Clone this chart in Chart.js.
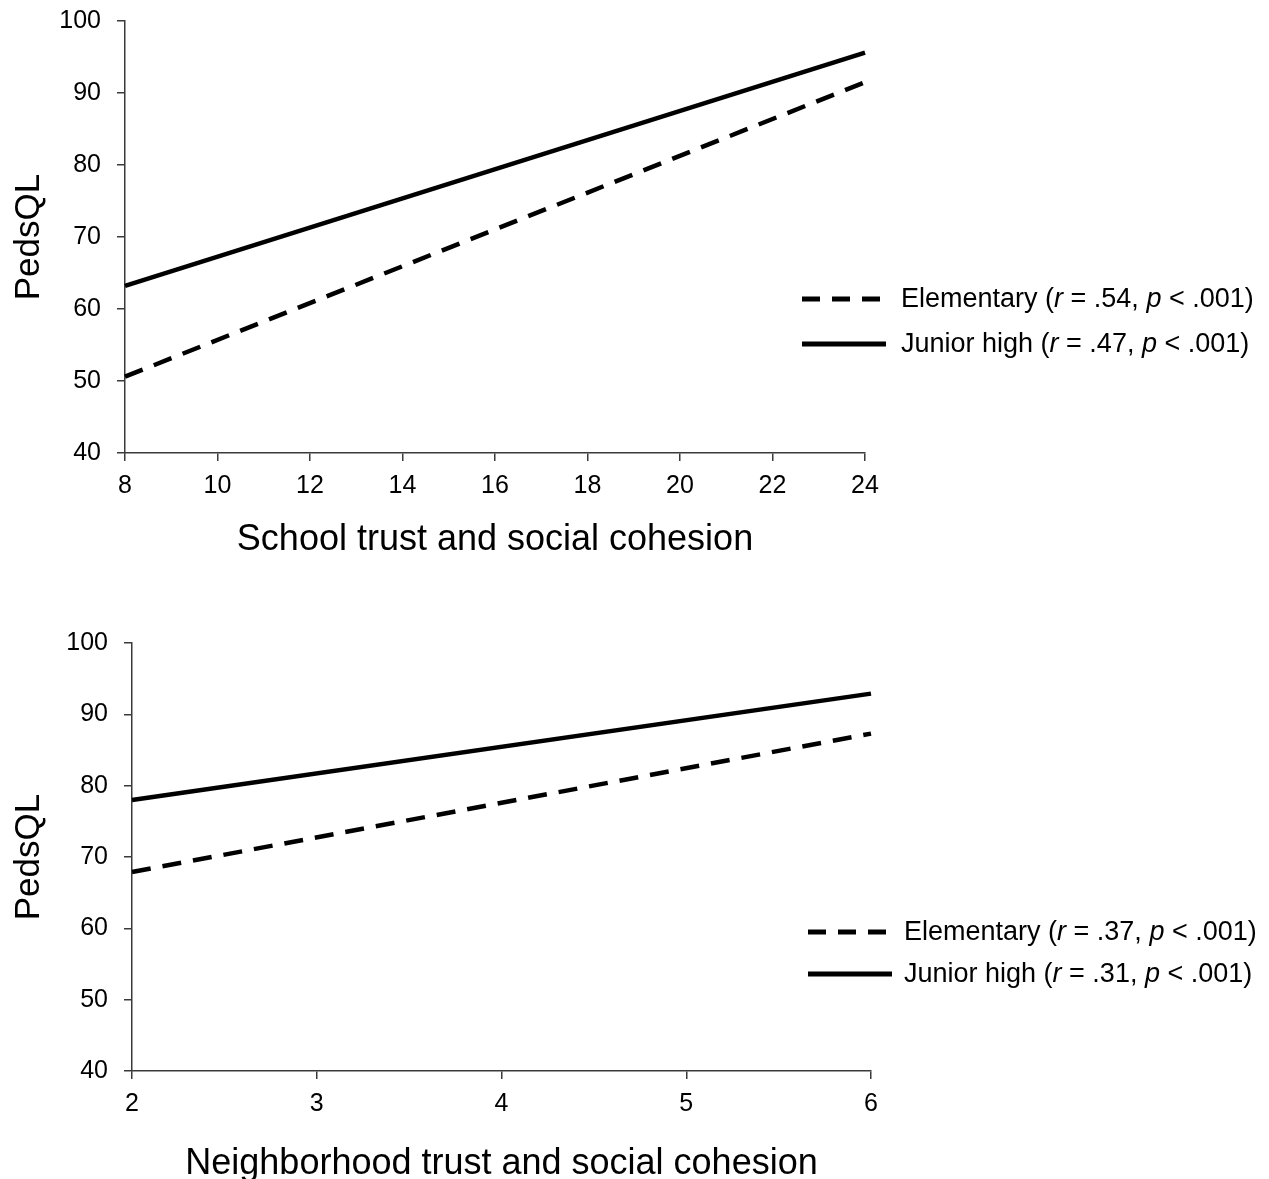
<!DOCTYPE html>
<html>
<head>
<meta charset="utf-8">
<script src="https://cdn.jsdelivr.net/npm/chart.js@4.4.1/dist/chart.umd.min.js"></script>
<style>
  html, body { margin: 0; padding: 0; background: #fff; overflow: hidden; width: 1269px; height: 1179px; }
  body { position: relative; font-family: "Liberation Sans", Arial, sans-serif; }
  canvas { position: absolute; left: 0; }
  #c1 { top: -20px; }
  #c2 { top: 600px; }
  .legend { position: absolute; font-size: 27px; color: #000; line-height: 1; }
  .legend .row { position: absolute; left: 0; white-space: nowrap; height: 30px; }
  .legend svg { position: absolute; left: 0; top: 0; }
  .legend .txt { position: absolute; top: 1px; }
  .legend i { font-style: italic; }
</style>
</head>
<body>
<canvas id="c1" width="1269" height="620" style="width:1269px;height:620px"></canvas>
<canvas id="c2" width="1269" height="620" style="width:1269px;height:620px"></canvas>

<div class="legend" id="leg1" style="left:802px; top:284px;">
  <div class="row" style="top:0;">
    <svg width="80" height="30"><line x1="0" y1="15" x2="78" y2="15" stroke="#000" stroke-width="5" stroke-dasharray="18,12"/></svg>
    <span class="txt" style="left:99px;">Elementary (<i>r</i> = .54, <i>p</i> &lt; .001)</span>
  </div>
  <div class="row" style="top:45px;">
    <svg width="86" height="30"><line x1="0" y1="15" x2="84" y2="15" stroke="#000" stroke-width="5"/></svg>
    <span class="txt" style="left:99px;">Junior high (<i>r</i> = .47, <i>p</i> &lt; .001)</span>
  </div>
</div>

<div class="legend" id="leg2" style="left:808px; top:917px;">
  <div class="row" style="top:0;">
    <svg width="80" height="30"><line x1="0" y1="15" x2="78" y2="15" stroke="#000" stroke-width="5" stroke-dasharray="18,12"/></svg>
    <span class="txt" style="left:96px;">Elementary (<i>r</i> = .37, <i>p</i> &lt; .001)</span>
  </div>
  <div class="row" style="top:42px;">
    <svg width="86" height="30"><line x1="0" y1="15" x2="84" y2="15" stroke="#000" stroke-width="5"/></svg>
    <span class="txt" style="left:96px;">Junior high (<i>r</i> = .31, <i>p</i> &lt; .001)</span>
  </div>
</div>

<script>
// ---- Data ----
const schoolX = [8, 24];
const schoolElementary = [50.6, 91.5];
const schoolJuniorHigh = [63.2, 95.6];

const neighborhoodX = [2, 6];
const neighborhoodElementary = [67.9, 87.3];
const neighborhoodJuniorHigh = [78.0, 92.9];

const seriesLabels = ["Elementary", "Junior high"];
const yTitle = "PedsQL";
const schoolXTitle = "School trust and social cohesion";
const neighborhoodXTitle = "Neighborhood trust and social cohesion";

const yRange = { min: 40, max: 100, step: 10 };
const schoolXRange = { min: 8, max: 24, step: 2 };
const neighborhoodXRange = { min: 2, max: 6, step: 1 };

// ---- helpers ----
const FONT = "'Liberation Sans', Arial, sans-serif";
const AXIS_COLOR = "#3a3a3a";

function pts(xs, ys) { return xs.map((x, i) => ({ x: x, y: ys[i] })); }

function makeChart(id, xs, elem, junior, xRange, xTitle, geom) {
  const ctx = document.getElementById(id).getContext("2d");
  return new Chart(ctx, {
    type: "line",
    data: {
      datasets: [
        { label: seriesLabels[0], data: pts(xs, elem), borderColor: "#000", borderWidth: 4.5,
          borderDash: [19, 12], pointRadius: 0, fill: false, tension: 0, clip: false },
        { label: seriesLabels[1], data: pts(xs, junior), borderColor: "#000", borderWidth: 4.5,
          pointRadius: 0, fill: false, tension: 0, clip: false }
      ]
    },
    options: {
      responsive: false,
      animation: false,
      devicePixelRatio: 1,
      layout: { padding: { left: 0, top: geom.top, right: geom.right, bottom: 0 } },
      plugins: { legend: { display: false }, tooltip: { enabled: false }, title: { display: false } },
      scales: {
        x: {
          type: "linear",
          min: xRange.min, max: xRange.max,
          afterFit: s => { s.height = geom.xh; },
          ticks: { stepSize: xRange.step, color: "#000", font: { family: FONT, size: 25 }, padding: 10, maxRotation: 0, autoSkip: false },
          grid: { display: true, drawOnChartArea: false, drawTicks: true, tickLength: 8, color: AXIS_COLOR, lineWidth: 1.5 },
          border: { display: true, color: AXIS_COLOR, width: 1.5 },
          title: { display: true, text: xTitle, color: "#000", font: { family: FONT, size: 36 }, padding: { top: 0, bottom: geom.xtp } }
        },
        y: {
          type: "linear",
          min: yRange.min, max: yRange.max,
          afterFit: s => { s.width = geom.yw; },
          ticks: { stepSize: yRange.step, color: "#000", font: { family: FONT, size: 25 }, padding: 16 },
          grid: { display: true, drawOnChartArea: false, drawTicks: true, tickLength: 8, color: AXIS_COLOR, lineWidth: 1.5 },
          border: { display: true, color: AXIS_COLOR, width: 1.5 },
          title: { display: true, text: yTitle, color: "#000", font: { family: FONT, size: 35 }, padding: { top: 8, bottom: 0 } }
        }
      }
    }
  });
}

makeChart("c1", schoolX, schoolElementary, schoolJuniorHigh, schoolXRange, schoolXTitle,
  { top: 41, right: 404, xh: 147, yw: 125, xtp: 38 });
makeChart("c2", neighborhoodX, neighborhoodElementary, neighborhoodJuniorHigh, neighborhoodXRange, neighborhoodXTitle,
  { top: 43, right: 398, xh: 149, yw: 132, xtp: 34 });
</script>
</body>
</html>
